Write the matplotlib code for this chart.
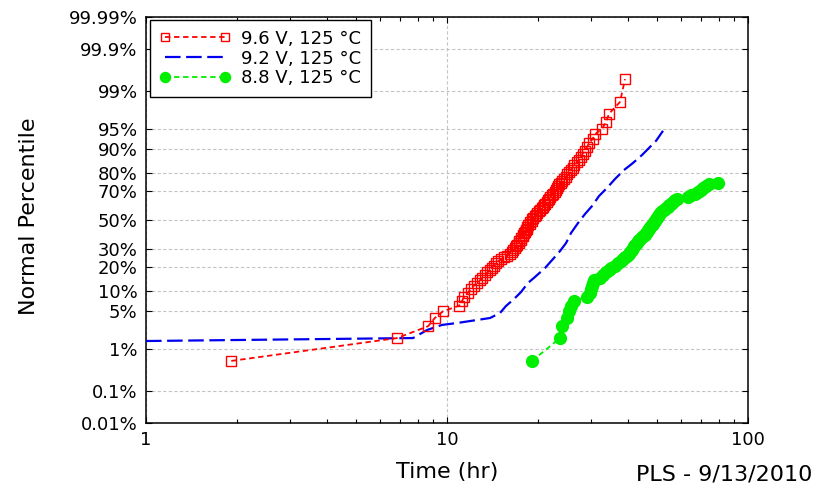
import matplotlib
matplotlib.use("Agg")
import matplotlib.pyplot as plt
from matplotlib.ticker import FixedLocator, NullFormatter
from statistics import NormalDist

# failure times (hr)
n_units = 90
times_96 = [1.92, 6.82, 8.65, 9.12, 9.70, 10.96, 11.22, 11.39, 11.70, 11.97,
            12.25, 12.58, 12.87, 13.12, 13.37, 13.63, 13.90, 14.11, 14.32, 14.55,
            14.77, 15.11, 15.52, 15.82, 16.19, 16.44, 16.63, 16.82, 16.95, 17.08,
            17.28, 17.41, 17.55, 17.68, 17.82, 17.89, 18.03, 18.16, 18.30, 18.44,
            18.51, 18.65, 18.80, 18.94, 19.09, 19.23, 19.38, 19.60, 19.75, 19.91,
            20.14, 20.37, 20.61, 20.84, 21.00, 21.24, 21.41, 21.65, 21.82, 22.07,
            22.33, 22.58, 22.84, 23.02, 23.20, 23.38, 23.56, 23.83, 24.11, 24.48,
            24.86, 25.13, 25.43, 25.82, 26.12, 26.52, 27.04, 27.45, 27.87, 28.20,
            28.63, 29.18, 29.63, 30.44, 31.02, 32.73, 33.75, 34.54, 37.57, 39.03]

times_88 = [19.16, 23.74, 24.11, 25.05, 25.43, 25.82, 26.42, 29.18, 29.75, 29.98,
            30.21, 30.55, 30.90, 32.24, 32.99, 33.75, 34.40, 35.07, 36.02, 36.99,
            37.85, 38.43, 39.03, 39.63, 40.24, 40.70, 41.18, 41.49, 41.81, 42.29,
            42.78, 43.11, 43.44, 43.95, 44.62, 45.49, 45.83, 46.18, 46.53, 46.89,
            47.25, 47.80, 48.35, 48.72, 49.10, 49.48, 49.86, 50.23, 50.62, 51.00,
            51.80, 52.60, 53.41, 54.03, 54.65, 55.28, 56.14, 57.22, 58.11, 63.19,
            64.65, 66.67, 68.22, 69.83, 70.89, 72.55, 74.20, 79.47]

# 9.2 V trace (time, percentile)
times_92 = [1.00, 7.71, 8.58, 9.62, 10.80, 13.90, 15.00, 15.70, 16.70, 17.62,
            18.58, 19.60, 21.17, 22.50, 23.74, 24.86, 25.82, 27.24, 28.74, 30.32,
            31.99, 34.00, 36.15, 38.73, 41.49, 44.44, 47.25, 49.48, 52.20]
pct_92 = [1.46, 1.67, 2.37, 2.93, 3.17, 3.87, 4.69, 6.06, 7.73, 9.73,
          12.82, 15.22, 19.36, 24.1, 28.8, 33.9, 40.7, 47.8, 54.3, 59.9,
          66.7, 71.8, 77.0, 81.6, 84.8, 87.9, 90.6, 92.3, 94.6]

pct_ticks = [0.1, 1, 5, 10, 20, 30, 50, 70, 80, 90, 95, 99, 99.9]
pct_labels = ['0.1%', '1%', '5%', '10%', '20%', '30%', '50%', '70%', '80%',
              '90%', '95%', '99%', '99.9%']

nd = NormalDist()


def probit(pct):
    return [nd.inv_cdf(p / 100.0) for p in pct]


def rank_pct(n_fail, n):
    # median plotting positions (i - 0.5) / n
    return [(i - 0.5) / n * 100 for i in range(1, n_fail + 1)]


plt.rcParams['font.family'] = ['DejaVu Sans']

fig = plt.figure(figsize=(8.14, 4.9), dpi=100)
ax = fig.add_axes([146 / 814, 1 - 423 / 490, 602 / 814, 406 / 490])

ax.plot(times_96, probit(rank_pct(len(times_96), n_units)), color='#ff0000',
        linestyle=(0, (3, 2)), lw=1.3, marker='s', ms=7.5, mfc='none',
        mec='#ff0000', mew=1.0, label='9.6 V, 125 °C', zorder=4)
ax.plot(times_92, probit(pct_92), color='#0000ee', linestyle=(0, (7, 2.5)),
        lw=1.6, label='9.2 V, 125 °C', zorder=3)
ax.plot(times_88, probit(rank_pct(len(times_88), n_units)), color='#00ee00',
        linestyle=(0, (3, 2)), lw=1.3, marker='o', ms=8.5, mfc='#00ee00',
        mec='#00ee00', label='8.8 V, 125 °C', zorder=3)

ax.set_xscale('log')
ax.set_xlim(1, 100)
ax.xaxis.set_major_locator(FixedLocator([1, 10, 100]))
ax.set_xticklabels(['1', '10', '100'])
ax.xaxis.set_minor_locator(FixedLocator([k * d for d in (1, 10) for k in range(2, 10)]))
ax.xaxis.set_minor_formatter(NullFormatter())

ylim = 3.658
ax.set_ylim(-ylim, ylim)
ax.set_yticks([-ylim] + probit(pct_ticks) + [ylim])
ax.set_yticklabels(['0.01%'] + pct_labels + ['99.99%'])

ax.grid(True, which='major', color='#c4c4c4', linestyle=(0, (3, 2)), lw=0.8)
ax.set_axisbelow(True)
ax.tick_params(which='both', direction='in', top=True, right=True,
               labelsize=13, pad=6, width=0.8)
ax.tick_params(which='major', length=4)
ax.tick_params(which='minor', length=3)
for s in ax.spines.values():
    s.set_linewidth(1.1)

ax.set_xlabel('Time (hr)', fontsize=16)
ax.xaxis.set_label_coords(0.5, -0.095)
ax.set_ylabel('Normal Percentile', fontsize=16)
ax.yaxis.set_label_coords(-0.178, 0.51)

fig.text(812 / 814, 1 - 474 / 490, 'PLS - 9/13/2010', ha='right', va='center',
         fontsize=16)

leg = ax.legend(loc='upper left', bbox_to_anchor=(0.006, 0.993),
                borderaxespad=0, fontsize=13, numpoints=2, handlelength=3.9,
                handletextpad=0.6, labelspacing=0.1, borderpad=0.55,
                markerscale=0.85, fancybox=False, framealpha=1,
                edgecolor='black')
leg.get_frame().set_linewidth(1.0)

fig.savefig('out.png', dpi=100)
